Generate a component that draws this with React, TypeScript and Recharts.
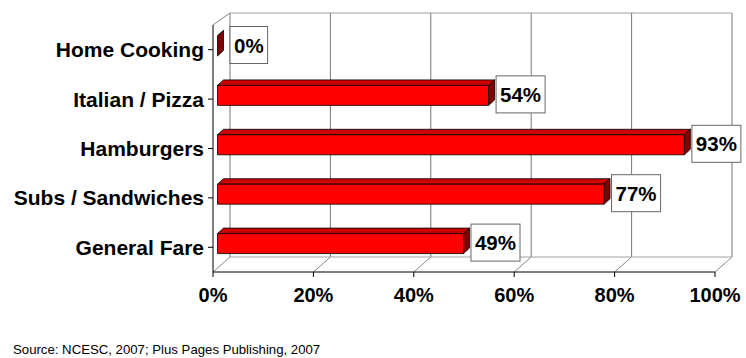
import { BarChart, Bar, XAxis, YAxis, CartesianGrid, LabelList, ReferenceArea } from "recharts";

const CATEGORIES = ["Home Cooking", "Italian / Pizza", "Hamburgers", "Subs / Sandwiches", "General Fare"];
const SHARES = [0, 54, 93, 77, 49];
const X_TICKS = [0, 20, 40, 60, 80, 100];
const SOURCE = "Source: NCESC, 2007; Plus Pages Publishing, 2007";

const data = CATEGORIES.map((name, i) => ({ name, value: SHARES[i] }));

const FONT = "'Liberation Sans', Arial, sans-serif";

// 3d offsets (px) for the wall depth and the bar depth
const WALL_DX = 17;
const BAR_X = 4.5;
const BAR_Y = -4;
const BAR_DX = 6;
const BAR_DY = -5.5;

const Bar3D = (props: any) => {
  const { x, y, width, height } = props;
  const fx = x + BAR_X;
  const fy = y + BAR_Y;
  const w = Math.max(0, width);
  return (
    <g stroke="#000" strokeWidth={0.8} strokeLinejoin="round">
      <polygon
        points={`${fx},${fy} ${fx + BAR_DX},${fy + BAR_DY} ${fx + w + BAR_DX},${fy + BAR_DY} ${fx + w},${fy}`}
        fill="#CC0000"
      />
      <polygon
        points={`${fx + w},${fy} ${fx + w + BAR_DX},${fy + BAR_DY} ${fx + w + BAR_DX},${fy + height + BAR_DY} ${fx + w},${fy + height}`}
        fill="#800000"
      />
      {w > 0 && <rect x={fx} y={fy} width={w} height={height} fill="#FF0000" />}
    </g>
  );
};

const renderLabel = (props: any) => {
  const { x, y, width, height, value } = props;
  const text = `${value}%`;
  const fs = 20.5;
  const boxW = 8 + fs * (0.556 * String(value).length + 0.889);
  const boxH = 37;
  // labels never sit in front of the back wall's left edge
  const left = Math.max(x + BAR_X + Math.max(0, width) + BAR_DX + 1.5, x + WALL_DX);
  const cy = y + height / 2 - 5;
  return (
    <g>
      <rect x={left} y={cy - boxH / 2} width={boxW} height={boxH} fill="#fff" stroke="#666" strokeWidth={1} />
      <text
        x={left + boxW / 2}
        y={cy}
        textAnchor="middle"
        dominantBaseline="central"
        fontFamily={FONT}
        fontWeight={700}
        fontSize={fs}
        fill="#000"
      >
        {text}
      </text>
    </g>
  );
};

const gridLine = (p: any) => {
  const { x1, y1, y2, index } = p;
  const bx = x1 + WALL_DX;
  return (
    <g key={`g-${x1}`}>
      <line x1={bx} y1={y1 - 12} x2={bx} y2={y2 - 15} stroke="#777" strokeWidth={1} />
      <line x1={x1} y1={y2} x2={bx} y2={y2 - 15} stroke="#888" strokeWidth={1} />
      {index === 0 && <line x1={x1} y1={y1} x2={bx} y2={y1 - 12} stroke="#888" strokeWidth={1} />}
    </g>
  );
};

const wallShape = (p: any) => {
  const { x, y, width, height } = p;
  return (
    <g stroke="#A0A0A0" strokeWidth={1}>
      <line x1={x + WALL_DX} y1={y - 12} x2={x + width + WALL_DX} y2={y - 12} />
      <line x1={x + WALL_DX} y1={y + height - 15} x2={x + width + WALL_DX} y2={y + height - 15} />
    </g>
  );
};

export default function App() {
  return (
    <div style={{ position: "relative", width: 746, height: 358, fontFamily: FONT, overflow: "hidden" }}>
      <style>{`body{margin:0}`}</style>
      <BarChart
        width={746}
        height={358}
        data={data}
        layout="vertical"
        margin={{ top: 25, right: 31, bottom: 56, left: 0 }}
      >
        <CartesianGrid horizontal={false} vertical={gridLine} />
        <ReferenceArea x1={0} x2={100} ifOverflow="visible" shape={wallShape} />
        <XAxis
          type="number"
          domain={[0, 100]}
          ticks={X_TICKS}
          tickFormatter={(v: number) => `${v}%`}
          height={30}
          tickSize={5}
          tickMargin={11}
          stroke="#000"
          interval={0}
          tick={{ fontSize: 20, fontWeight: 700, fill: "#000", fontFamily: FONT }}
        />
        <YAxis
          type="category"
          dataKey="name"
          width={213}
          tickSize={5}
          tickMargin={4}
          stroke="#000"
          interval={0}
          tick={{ fontSize: 21, fontWeight: 700, fill: "#000", fontFamily: FONT }}
        />
        <Bar dataKey="value" barSize={20} shape={Bar3D} isAnimationActive={false}>
          <LabelList dataKey="value" content={renderLabel} />
        </Bar>
      </BarChart>
      <div style={{ position: "absolute", left: 13, top: 342, fontSize: 13.2, lineHeight: 1.15, color: "#000", whiteSpace: "nowrap" }}>
        {SOURCE}
      </div>
    </div>
  );
}
